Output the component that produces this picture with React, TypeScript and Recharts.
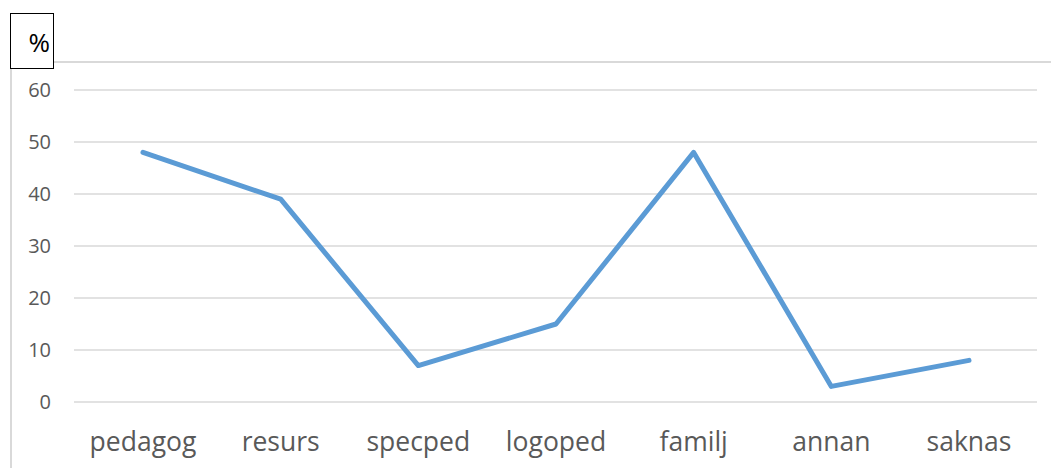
import React from 'react';
import { LineChart, Line, XAxis, YAxis, CartesianGrid } from 'recharts';

const categories = ['pedagog', 'resurs', 'specped', 'logoped', 'familj', 'annan', 'saknas'];
const percentValues = [48, 39, 7, 15, 48, 3, 8];
const yTicks = [0, 10, 20, 30, 40, 50, 60];

const data = categories.map((name, i) => ({ name, value: percentValues[i] }));

const FONT = '"Open Sans", "Noto Sans", sans-serif';

export default function App() {
   return (
      <div style={{ position: 'absolute', left: 0, top: 0, width: 1051, height: 468, background: '#fff', overflow: 'hidden', fontFamily: FONT }}>
         {/* chart frame (only left and top edges are in view) */}
         <div style={{ position: 'absolute', left: 10, top: 61, width: 1100, height: 500, border: '2px solid #D9D9D9', boxSizing: 'border-box' }} />
         <LineChart width={1051} height={468} data={data} margin={{ top: 90, right: 14, bottom: 0, left: 0 }} style={{ position: 'absolute', left: 0, top: 0 }}>
            <CartesianGrid vertical={false} stroke="#D9D9D9" strokeWidth={1.5} />
            <XAxis
               dataKey="name"
               height={66}
               padding={{ left: 69, right: 68 }}
               axisLine={false}
               tickLine={false}
               tickSize={0}
               tickMargin={30}
               tick={{ fill: '#595959', fontSize: 26.5, fontFamily: FONT }}
               interval={0}
            />
            <YAxis
               width={74}
               domain={[0, 60]}
               ticks={yTicks}
               axisLine={false}
               tickLine={false}
               tickSize={0}
               tickMargin={23}
               tick={{ fill: '#595959', fontSize: 20, fontFamily: FONT }}
            />
            <Line type="linear" dataKey="value" stroke="#5B9BD5" strokeWidth={5} dot={false} isAnimationActive={false} strokeLinecap="round" strokeLinejoin="round" />
         </LineChart>
         {/* "%" unit box */}
         <div style={{ position: 'absolute', left: 10, top: 13, width: 44, height: 56, border: '1.5px solid #000', boxSizing: 'border-box', background: '#fff', display: 'flex', alignItems: 'center', justifyContent: 'flex-end', paddingRight: 3, paddingTop: 2, fontSize: 26, color: '#000' }}>
            %
         </div>
      </div>
   );
}
